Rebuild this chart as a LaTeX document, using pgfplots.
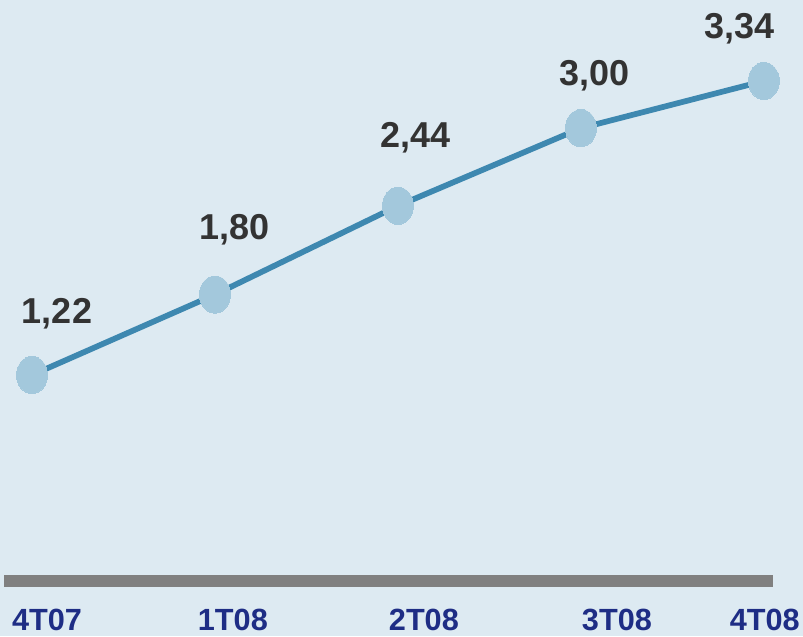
\documentclass[border=0pt]{standalone}
\usepackage{fontspec}
\setmainfont{Liberation Sans}
\usepackage{pgfplots}
\pgfplotsset{compat=1.18}
\definecolor{bgc}{HTML}{DDEAF2}
\definecolor{linec}{HTML}{3E88B0}
\definecolor{markc}{HTML}{A3C8DC}
\definecolor{barc}{HTML}{808080}
\definecolor{tickc}{HTML}{1E2D85}
\definecolor{labc}{HTML}{333333}
\begin{document}
\begin{tikzpicture}
\fill[bgc] (0,0) rectangle (602.25pt,477pt);
\begin{axis}[
  at={(3pt,41.25pt)}, anchor=south west,
  scale only axis, width=576.75pt, height=435.75pt,
  xmin=-0.153, xmax=4.05, ymin=-0.265, ymax=3.924,
  axis x line=bottom, axis y line=none,
  axis line style={barc, line width=9pt, -},
  xtick={0.082,1.098,2.142,3.197,4.005},
  xticklabels={4T07,1T08,2T08,3T08,4T08},
  major tick length=0pt,
  xticklabel style={font=\fontsize{23}{26}\selectfont\bfseries, text=tickc, anchor=center, yshift=-29pt},
  clip=false,
]
\addplot[linec, line width=4.3pt,
  mark=*, mark size=11.6pt,
  mark options={draw=markc, fill=markc, line width=0pt, yscale=1.2},
  point meta=explicit symbolic,
  visualization depends on={\thisrow{dx}\as\dx},
  visualization depends on={\thisrow{dy}\as\dy},
  nodes near coords={\pgfplotspointmeta},
  every node near coord/.style={anchor=center, xshift=\dx pt, yshift=\dy pt,
    font=\fontsize{27}{30}\selectfont\bfseries, text=labc},
] table[x=x, y=y, meta=lab] {
x y lab dx dy
0 1.22 1,22 18.75 45.75
1 1.80 1,80 15 48.75
2 2.44 2,44 13.5 51
3 3.00 3,00 10.5 39
4 3.34 3,34 -18 39
};
\end{axis}
\pgfresetboundingbox
\path[use as bounding box] (0,0) rectangle (602.25pt,477pt);
\end{tikzpicture}
\end{document}
